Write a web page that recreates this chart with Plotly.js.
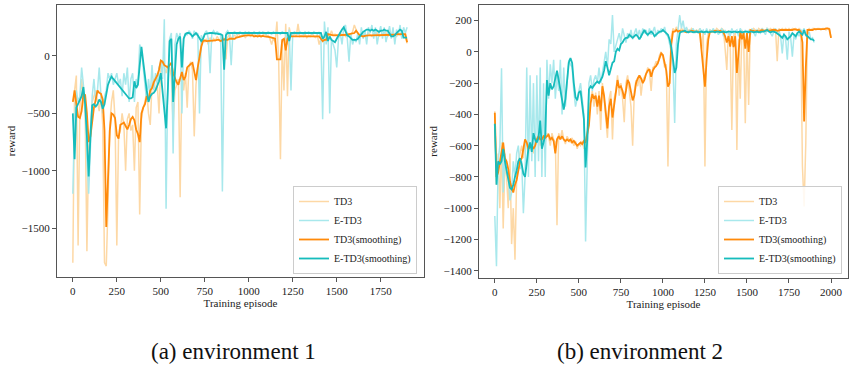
<!DOCTYPE html>
<html>
<head>
<meta charset="utf-8">
<script src="https://cdn.plot.ly/plotly-3.0.1.min.js"></script>
<style>html,body{margin:0;padding:0;background:#fff;}#chart{width:865px;height:372px;}</style>
</head>
<body>
<div id="chart"></div>
<script>
// ---------- DATA (one value every 10 episodes) ----------
const EPISODE_STEP = 10;
const seriesNames = ["TD3", "E-TD3", "TD3(smoothing)", "E-TD3(smoothing)"];
const captions = ["(a) environment 1", "(b) environment 2"];
const xTicksL = [0, 250, 500, 750, 1000, 1250, 1500, 1750];
const yTicksL = [-1500, -1000, -500, 0];
const xTicksR = [0, 250, 500, 750, 1000, 1250, 1500, 1750, 2000];
const yTicksR = [-1400, -1200, -1000, -800, -600, -400, -200, 0, 200];

// environment 1
const td3RawL = [
 -1800,-300,-170,-1650,-450,-200,-350,-500,-1700,-800,
 -650,-400,-350,-300,-400,-480,-350,-600,-1800,-1830,
 -1300,-600,-400,-300,-550,-1650,-700,-650,-500,-600,
 -1000,-550,-500,-650,-600,-1000,-450,-400,-1380,-550,
 -450,-400,-300,-500,-600,-250,-200,-300,-250,-500,
 -70,-40,-100,-150,-80,-100,-180,-600,-300,-250,
 -200,-1230,-150,-300,-150,-450,-100,-50,-120,-700,
 -250,-100,0,100,150,120,150,100,160,120,
 150,130,170,140,120,160,150,-30,160,200,
 150,170,180,160,200,170,180,190,160,180,
 190,170,180,200,170,180,190,170,180,200,
 170,180,150,100,160,120,300,-50,-900,100,
 -300,280,-350,250,170,180,190,170,280,170,
 180,170,190,160,180,170,200,170,160,180,
 100,150,120,180,200,190,170,220,180,190,
 180,170,200,180,190,170,200,180,190,210,
 270,230,190,170,180,190,170,180,200,180,
 170,190,180,200,170,180,190,180,200,170,
 190,180,200,180,170,190,180,200,190,170,
 110];
const etd3RawL = [
 -1200,-550,-300,-400,-350,-100,-250,-450,-900,-1200,
 -800,-350,-200,-400,-300,-100,-350,-500,-350,-300,
 -150,-200,-150,-250,-200,-150,-250,-200,-350,-150,
 -250,-100,-400,-200,-150,-400,-200,-250,100,50,
 -100,-250,-400,-200,-350,-80,-300,-150,-250,-100,
 -50,-200,320,-1330,-200,150,200,-850,100,200,
 150,200,-500,150,200,180,220,200,150,220,
 180,200,-500,180,150,200,220,150,-150,200,
 220,190,210,200,180,-1180,-50,200,220,190,
 -80,200,210,190,200,210,200,190,210,200,
 210,200,190,210,200,190,210,200,210,200,
 190,210,200,190,210,200,210,200,190,210,
 200,190,100,230,-300,200,210,200,190,210,
 200,190,210,200,210,200,190,210,200,190,
 210,150,-550,300,100,250,-500,150,100,50,
 -100,150,200,100,250,270,150,-50,200,100,
 150,120,200,100,250,150,220,100,250,200,
 270,150,250,100,200,260,150,250,120,200,
 260,150,250,100,230,180,270,150,250,200,
 250];
const td3SmoothL = [
 -400,-300,-420,-530,-540,-480,-330,-340,-500,-750,
 -700,-560,-450,-380,-300,-320,-330,-380,-650,-1490,
 -1000,-650,-500,-510,-540,-690,-720,-600,-590,-580,
 -610,-640,-600,-550,-530,-560,-640,-680,-750,-500,
 -450,-420,-350,-380,-300,-280,-230,-200,-170,-120,
 -40,-50,-80,-90,-100,-80,-60,-150,-200,-230,
 -250,-180,-140,-210,-180,-100,-80,-70,-60,-150,
 -210,-100,0,80,130,135,130,130,135,130,
 130,135,140,140,130,140,145,140,140,150,
 150,155,150,160,165,170,170,175,180,180,
 180,175,180,170,175,170,175,170,175,170,
 170,170,165,160,155,150,-30,-30,-30,140,
 150,50,150,170,170,170,170,170,175,170,
 170,170,175,170,170,170,175,170,170,170,
 170,150,130,140,140,190,185,180,180,180,
 180,180,185,180,180,180,185,190,195,200,
 200,220,200,180,175,170,175,180,180,180,
 180,180,180,180,180,180,180,180,180,180,
 180,185,185,185,190,190,190,190,190,190,
 120];
const etd3SmoothL = [
 -500,-900,-450,-420,-380,-350,-270,-420,-700,-1050,
 -700,-430,-420,-440,-420,-380,-400,-460,-420,-330,
 -250,-210,-180,-200,-220,-230,-250,-280,-300,-320,
 -330,-360,-370,-370,-360,-220,-280,-250,-100,80,
 -50,-200,-300,-400,-350,-330,-320,-300,-260,-220,
 -150,-320,-450,-630,-300,130,150,-400,-150,100,
 150,170,-100,150,190,200,200,190,170,190,
 200,180,160,130,150,190,195,200,200,200,
 200,200,195,190,190,180,-120,180,200,200,
 200,200,200,200,200,200,200,200,200,200,
 200,200,200,200,200,200,200,200,200,200,
 200,200,200,200,200,200,200,200,200,200,
 200,200,200,130,200,200,200,200,200,200,
 200,200,200,200,200,200,200,200,200,200,
 200,200,150,170,210,130,170,140,130,120,
 150,180,200,230,250,220,180,170,150,140,
 140,140,150,170,200,210,220,230,230,220,
 230,220,230,220,210,220,220,230,220,220,
 200,170,170,180,200,220,230,220,160,160,
 160];

// environment 2
const td3RawR = [
 -380,-850,-650,-1000,-580,-1130,-700,-800,-1000,-650,
 -1230,-1000,-1330,-800,-700,-650,-600,-680,-560,-600,
 -650,-580,-600,-650,-580,-560,-520,-600,-540,-560,
 -580,-520,-540,-600,-520,-560,-580,-1110,-520,-560,
 -500,-560,-590,-540,-560,-580,-550,-600,-570,-620,
 -590,-600,-570,-620,-580,-500,-420,-300,-250,-350,
 -260,-400,-250,-500,-200,-300,-450,-550,-300,-250,
 -560,-300,-250,-150,-280,-200,-300,-450,-200,-150,
 -250,-350,-600,-250,-180,-220,-150,-280,-180,-160,
 -140,-100,-130,-250,-100,-90,-60,-80,-20,0,
 -30,-100,-80,-734,-150,100,150,130,160,140,
 130,150,140,130,150,140,130,150,140,130,
 140,130,150,20,130,-734,50,120,140,130,
 140,130,150,140,130,150,140,20,-115,140,
 50,-500,100,130,-627,80,-300,140,100,-456,
 120,-340,140,130,150,140,130,150,140,150,
 140,130,150,140,150,140,150,140,-60,150,
 140,150,140,150,140,150,140,150,140,150,
 140,150,140,-734,-990,-583,140,150,140,150,
 150,140,150,150,140,150,150,140,150,150,
 90];
const etd3RawR = [
 -1050,-1372,-700,-600,-105,-900,-650,-780,-800,-950,
 -900,-700,-800,-650,-600,-750,-700,-1032,-800,-100,
 -800,-150,-700,-200,-800,-150,-700,-100,-800,-200,
 -800,-50,-300,-80,-200,-50,-300,-150,-250,-50,
 -400,-100,-350,-200,-50,-80,-100,-250,-350,-300,
 -250,-200,-300,-400,-1214,-600,-200,-150,-250,-180,
 -150,-200,-100,-200,-130,-50,0,-100,80,50,
 236,0,50,80,120,60,150,100,60,120,
 90,140,80,120,150,100,140,90,150,120,
 140,100,150,110,130,160,100,140,120,150,
 130,160,110,100,50,0,-100,-455,50,140,
 236,150,200,130,160,120,140,130,150,120,
 140,120,150,130,140,110,150,120,140,130,
 150,120,140,110,130,150,100,140,120,130,
 100,150,120,130,140,100,150,130,110,140,
 120,140,110,150,130,100,140,130,120,150,
 130,110,150,140,120,100,130,150,120,140,
 100,-10,120,80,-50,130,90,-30,110,80,
 120,100,140,130,150,100,110,130,80,90,
 60];
const td3SmoothR = [
 -390,-800,-770,-700,-650,-580,-680,-700,-750,-830,
 -870,-900,-850,-820,-760,-700,-680,-620,-560,-580,
 -620,-610,-600,-620,-600,-560,-540,-560,-560,-540,
 -550,-540,-530,-560,-550,-570,-650,-560,-540,-560,
 -540,-560,-570,-560,-570,-560,-580,-570,-590,-600,
 -590,-580,-590,-570,-580,-520,-470,-330,-270,-300,
 -280,-350,-280,-380,-220,-280,-370,-490,-350,-300,
 -420,-350,-270,-180,-230,-220,-250,-300,-250,-180,
 -200,-250,-310,-280,-200,-170,-150,-170,-200,-180,
 -140,-120,-110,-160,-120,-100,-90,-70,-40,-10,
 -20,-80,-120,-222,-200,50,130,130,140,130,
 135,130,135,130,125,130,130,135,130,130,
 130,130,120,20,-100,-222,-50,80,130,130,
 130,135,130,130,135,130,125,100,60,100,
 34,100,30,100,-135,-10,130,80,120,20,
 120,0,140,135,135,130,135,130,135,140,
 135,140,140,135,140,140,140,140,135,140,
 140,140,140,140,140,140,140,140,145,140,
 140,140,130,60,-446,-100,140,140,140,140,
 145,145,145,145,145,145,145,150,150,145,
 90];
const etd3SmoothR = [
 -460,-850,-700,-720,-700,-620,-700,-750,-820,-870,
 -880,-850,-800,-760,-700,-680,-720,-780,-800,-700,
 -620,-580,-640,-520,-560,-580,-550,-440,-620,-580,
 -530,-180,-280,-200,-240,-220,-170,-120,-180,-250,
 -330,-370,-300,-200,-70,-40,-70,-200,-290,-310,
 -260,-250,-330,-430,-740,-560,-240,-220,-230,-210,
 -200,-190,-200,-180,-160,-120,-60,-100,-150,-110,
 -70,-60,0,20,10,50,60,80,90,90,
 110,100,90,100,110,100,80,100,120,140,
 120,110,120,130,120,100,110,120,130,130,
 140,130,120,110,80,30,-50,-135,-100,50,
 120,130,130,135,130,125,130,130,125,130,
 130,125,130,130,125,130,130,125,130,130,
 130,125,130,130,125,130,130,125,130,130,
 130,125,130,130,125,130,130,125,130,130,
 130,125,130,130,125,130,130,125,130,130,
 130,135,140,130,125,130,130,125,120,110,
 100,90,110,100,80,90,100,120,110,100,
 120,130,120,110,140,110,100,90,80,80,
 70];

// ---------- STYLE ----------
const FONT = "Liberation Serif";
const colRaw = ["#fdd8a5", "#a8e8ec"];
const colSmooth = ["#ff8a0a", "#16bcbc"];

function episodes(arr) { return arr.map((_, i) => i * EPISODE_STEP); }

function panelTraces(raws, smooths, xa, ya, legendId) {
  const out = [];
  raws.forEach((r, k) => out.push({
    type: "scatter", mode: "lines", x: episodes(r), y: r, name: seriesNames[k],
    xaxis: xa, yaxis: ya, legend: legendId,
    line: {color: colRaw[k], width: 1.5}
  }));
  smooths.forEach((s, k) => out.push({
    type: "scatter", mode: "lines", x: episodes(s), y: s, name: seriesNames[k + 2],
    xaxis: xa, yaxis: ya, legend: legendId,
    line: {color: colSmooth[k], width: 1.8}
  }));
  return out;
}

const traces = [
  ...panelTraces([td3RawL, etd3RawL], [td3SmoothL, etd3SmoothL], "x", "y", "legend"),
  ...panelTraces([td3RawR, etd3RawR], [td3SmoothR, etd3SmoothR], "x2", "y2", "legend2")
];

const W = 865, H = 372;
const axisCommon = {
  showline: true, mirror: true, linecolor: "#555", linewidth: 1,
  ticks: "outside", ticklen: 4, tickcolor: "#555", showgrid: false, zeroline: false,
  tickfont: {family: FONT, size: 11, color: "#222"}
};
const legendCommon = {
  font: {family: FONT, size: 10, color: "#222"},
  bgcolor: "rgba(255,255,255,0.85)", bordercolor: "#ccc", borderwidth: 1,
  xanchor: "right", yanchor: "bottom", tracegroupgap: 0, itemwidth: 30
};

const layout = {
  width: W, height: H,
  margin: {l: 0, r: 0, t: 0, b: 0},
  paper_bgcolor: "#fff", plot_bgcolor: "#fff",
  font: {family: FONT, color: "#222"},
  xaxis: Object.assign({}, axisCommon, {
    domain: [57 / W, 424 / W], range: [-90, 1996], anchor: "y",
    tickvals: xTicksL, title: {text: "Training episode", font: {family: FONT, size: 11}, standoff: 2}
  }),
  yaxis: Object.assign({}, axisCommon, {
    domain: [1 - 277 / H, 1 - 5 / H], range: [-1925, 444], anchor: "x",
    tickvals: yTicksL, title: {text: "reward", font: {family: FONT, size: 11}, standoff: 3}
  }),
  xaxis2: Object.assign({}, axisCommon, {
    domain: [479 / W, 848 / W], range: [-94, 2101], anchor: "y2",
    tickvals: xTicksR, title: {text: "Training episode", font: {family: FONT, size: 11}, standoff: 2}
  }),
  yaxis2: Object.assign({}, axisCommon, {
    domain: [1 - 277.7 / H, 1 - 5 / H], range: [-1445, 300], anchor: "x2",
    tickvals: yTicksR, title: {text: "reward", font: {family: FONT, size: 11}, standoff: 3}
  }),
  legend: Object.assign({}, legendCommon, {x: 417 / W, y: 1 - 274 / H}),
  legend2: Object.assign({}, legendCommon, {x: 842 / W, y: 1 - 274 / H}),
  annotations: [
    {text: captions[0], xref: "paper", yref: "paper", x: 234 / W, y: 1 - 351 / H,
     xanchor: "center", yanchor: "middle", showarrow: false,
     font: {family: FONT, size: 23, color: "#111"}},
    {text: captions[1], xref: "paper", yref: "paper", x: 640 / W, y: 1 - 351 / H,
     xanchor: "center", yanchor: "middle", showarrow: false,
     font: {family: FONT, size: 23, color: "#111"}}
  ]
};

Plotly.newPlot("chart", traces, layout, {displayModeBar: false, staticPlot: true});
</script>
</body>
</html>
